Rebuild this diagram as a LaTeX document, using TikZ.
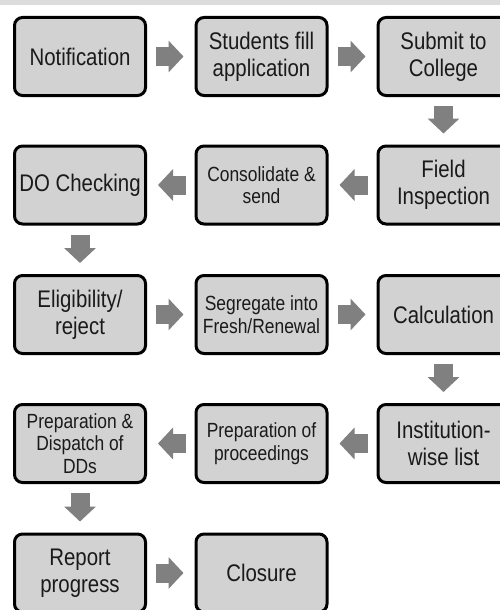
\documentclass[tikz,border=0pt]{standalone}
\usepackage{fontspec}
\setmainfont[FakeStretch=0.85]{Liberation Sans}
\usetikzlibrary{arrows.meta}
\definecolor{boxfill}{HTML}{D2D2D2}
\definecolor{arrowgray}{HTML}{808080}
\definecolor{band}{HTML}{DCDCDC}
\definecolor{txt}{HTML}{1A1A1A}
\tikzset{
  stepbox/.style={draw=black, line width=3pt, fill=boxfill, rounded corners=8pt,
    minimum width=131pt, minimum height=78pt, align=center, text=txt,
    inner sep=2pt, font=\fontsize{24}{27}\selectfont},
  smalltext/.style={font=\fontsize{20.5}{22.5}\selectfont},
  flowarrow/.style={draw=arrowgray, line width=19pt,
    -{Triangle[width=31pt,length=15pt]}, shorten <=9pt, shorten >=11pt}
}
\begin{document}
\begin{tikzpicture}[x=1pt,y=-1pt]
\useasboundingbox (0,0) rectangle (500,610);
\clip (0,0) rectangle (500,610);
\fill[white] (0,0) rectangle (500,610);
\fill[band] (0,0) rectangle (500,5);
% columns 80, 261.5, 443.5 ; rows 56.5, 185, 314.5, 443.5, 573
\node[stepbox] (n1) at (80,56.5) {Notification};
\node[stepbox] (n2) at (261.5,56.5) {Students fill\\application};
\node[stepbox] (n3) at (443.5,56.5) {Submit to\\College};
\node[stepbox] (n4) at (443.5,185) {Field\\Inspection};
\node[stepbox,smalltext] (n5) at (261.5,185) {Consolidate \&\\send};
\node[stepbox] (n6) at (80,185) {DO Checking};
\node[stepbox] (n7) at (80,314.5) {Eligibility/\\reject};
\node[stepbox,smalltext] (n8) at (261.5,314.5) {Segregate into\\Fresh/Renewal};
\node[stepbox] (n9) at (443.5,314.5) {Calculation};
\node[stepbox] (n10) at (443.5,443.5) {Institution-\\wise list};
\node[stepbox,smalltext] (n11) at (261.5,443.5) {Preparation of\\proceedings};
\node[stepbox,smalltext] (n12) at (80,443.5) {Preparation \&\\Dispatch of\\DDs};
\node[stepbox] (n13) at (80,573) {Report\\progress};
\node[stepbox] (n14) at (261.5,573) {Closure};
\draw[flowarrow] (n1) -- (n2);
\draw[flowarrow] (n2) -- (n3);
\draw[flowarrow] (n3) -- (n4);
\draw[flowarrow] (n4) -- (n5);
\draw[flowarrow] (n5) -- (n6);
\draw[flowarrow] (n6) -- (n7);
\draw[flowarrow] (n7) -- (n8);
\draw[flowarrow] (n8) -- (n9);
\draw[flowarrow] (n9) -- (n10);
\draw[flowarrow] (n10) -- (n11);
\draw[flowarrow] (n11) -- (n12);
\draw[flowarrow] (n12) -- (n13);
\draw[flowarrow] (n13) -- (n14);
\end{tikzpicture}
\end{document}
